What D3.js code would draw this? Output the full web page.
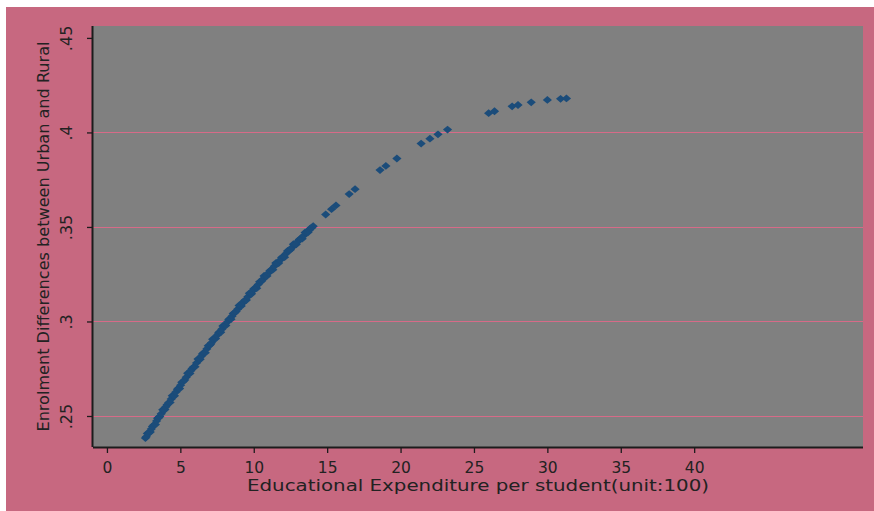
<!DOCTYPE html>
<html>
<head>
<meta charset="utf-8">
<script src="https://cdn.jsdelivr.net/npm/d3@7"></script>
<style>
  html, body { margin: 0; padding: 0; background: #ffffff; }
  svg { display: block; }
  text { font-family: "DejaVu Sans", sans-serif; fill: #222; }
</style>
</head>
<body>
<svg id="chart" width="874" height="511"></svg>
<script>
// Expenditure per student (unit: 100)
const expenditure = [
  2.62, 2.68, 2.75, 2.85, 2.95, 3.02, 3.1, 3.2, 3.3, 3.38, 3.45, 3.52, 3.6, 3.7, 3.8, 3.88,
  3.95, 4.02, 4.1, 4.2, 4.3, 4.38, 4.45, 4.52, 4.6, 4.7, 4.8, 4.88, 4.95, 5.02,
  5.1, 5.2, 5.3, 5.4, 5.5, 5.58, 5.65, 5.72, 5.8, 5.9, 6.0, 6.1, 6.2, 6.28, 6.35, 6.42,
  6.5, 6.6, 6.7, 6.8, 6.9, 6.98, 7.05, 7.12, 7.2, 7.3, 7.4, 7.5, 7.6, 7.68,
  7.75, 7.82, 7.9, 8.0, 8.1, 8.2, 8.3, 8.38, 8.45, 8.52, 8.6, 8.7, 8.8, 8.9, 9.0, 9.08,
  9.15, 9.22, 9.3, 9.4, 9.5, 9.6, 9.7, 9.78, 9.85, 9.92, 10.0, 10.1, 10.2, 10.3,
  10.4, 10.48, 10.55, 10.62, 10.7, 10.8, 10.9, 11.0, 11.1, 11.2, 11.3, 11.4, 11.5, 11.6,
  11.7, 11.8, 11.9, 12.0, 12.1, 12.2, 12.3, 12.4, 12.5, 12.6, 12.7, 12.8, 12.9, 13.0,
  13.1, 13.2, 13.3, 13.4, 13.5, 13.6, 13.7, 13.78, 13.85, 13.95, 14.05,
  14.9, 15.3, 15.6, 16.5, 16.9, 18.6, 19.0, 19.75, 21.4, 22.0, 22.55, 23.2,
  26.0, 26.4, 27.6, 28.0, 28.9, 30.0, 30.9, 31.3
];
// Enrolment differences between urban and rural
const enrolmentDiff = [
  0.2383, 0.2390, 0.2408, 0.2411, 0.2415, 0.2431, 0.2445, 0.2453, 0.2455, 0.2474, 0.2488, 0.2491, 0.2497, 0.2512, 0.2533, 0.2533,
  0.2534, 0.2549, 0.2560, 0.2570, 0.2572, 0.2590, 0.2607, 0.2606, 0.2607, 0.2627, 0.2642, 0.2647, 0.2645, 0.2663,
  0.2678, 0.2683, 0.2691, 0.2705, 0.2726, 0.2725, 0.2725, 0.2740, 0.2751, 0.2759, 0.2761, 0.2781, 0.2801, 0.2800, 0.2800, 0.2815,
  0.2828, 0.2834, 0.2835, 0.2855, 0.2871, 0.2874, 0.2878, 0.2888, 0.2906, 0.2907, 0.2910, 0.2927, 0.2939, 0.2945,
  0.2943, 0.2959, 0.2976, 0.2977, 0.2979, 0.2997, 0.3011, 0.3015, 0.3012, 0.3028, 0.3042, 0.3046, 0.3053, 0.3065, 0.3085, 0.3082,
  0.3082, 0.3096, 0.3105, 0.3112, 0.3113, 0.3131, 0.3149, 0.3148, 0.3146, 0.3161, 0.3172, 0.3177, 0.3176, 0.3195,
  0.3210, 0.3211, 0.3215, 0.3224, 0.3241, 0.3240, 0.3241, 0.3257, 0.3268, 0.3274, 0.3274, 0.3292, 0.3309, 0.3309,
  0.3309, 0.3325, 0.3338, 0.3342, 0.3340, 0.3359, 0.3373, 0.3375, 0.3380, 0.3391, 0.3409, 0.3407, 0.3408, 0.3423,
  0.3433, 0.3439, 0.3438, 0.3454, 0.3471, 0.3470, 0.3472, 0.3483, 0.3492, 0.3496, 0.3504,
  0.3566, 0.3594, 0.3614, 0.3674, 0.3700, 0.3801, 0.3823, 0.3862, 0.3941, 0.3967, 0.3990, 0.4015,
  0.4102, 0.4112, 0.4138, 0.4145, 0.4159, 0.4172, 0.4178, 0.4180
];
const xTicks = [0, 5, 10, 15, 20, 25, 30, 35, 40];
const yTicks = [0.25, 0.30, 0.35, 0.40, 0.45];
const yTickLabels = [".25", ".3", ".35", ".4", ".45"];
const yGrid = [0.25, 0.30, 0.35, 0.40];

const svg = d3.select("#chart");
const W = 874, H = 511;
const plot = { left: 93, right: 863, top: 26, bottom: 447 };

// outer pink panel (leaves thin white strip at top/left)
svg.append("rect").attr("x", 6).attr("y", 7).attr("width", W - 6).attr("height", H - 7)
  .attr("fill", "#c76880");

// grey plot region
svg.append("rect").attr("x", plot.left).attr("y", plot.top)
  .attr("width", plot.right - plot.left).attr("height", plot.bottom - plot.top)
  .attr("fill", "#808080");

const x = d3.scaleLinear().domain([-0.95, 51.5]).range([plot.left, plot.right]);
const y = d3.scaleLinear().domain([0.2336, 0.4563]).range([plot.bottom, plot.top]);

// horizontal grid lines
svg.append("g").selectAll("line").data(yGrid).join("line")
  .attr("x1", plot.left).attr("x2", plot.right)
  .attr("y1", d => Math.round(y(d)) + 0.5).attr("y2", d => Math.round(y(d)) + 0.5)
  .attr("stroke", "#d66b88").attr("stroke-width", 1);

// markers: flattened diamonds
const diamond = "M0,-3.9L4.6,0L0,3.9L-4.6,0Z";
const points = expenditure.map((v, i) => ({ x: v, y: enrolmentDiff[i] }));
svg.append("g").selectAll("path").data(points).join("path")
  .attr("d", diamond)
  .attr("transform", d => `translate(${x(d.x)},${y(d.y)})`)
  .attr("fill", "#1b4c7a");

// x axis
const xAxis = d3.axisBottom(x).tickValues(xTicks).tickSize(6).tickSizeOuter(0);
const gx = svg.append("g").attr("transform", `translate(0,${plot.bottom})`).call(xAxis);
gx.select(".domain").attr("d", `M${plot.left},0.5H${plot.right}`).attr("stroke", "#1c1c1c").attr("stroke-width", 2);
gx.selectAll(".tick line").attr("stroke", "#1c1c1c").attr("stroke-width", 1.3);
gx.selectAll(".tick text").attr("font-size", 15.5).attr("font-family", "DejaVu Sans, sans-serif")
  .attr("fill", "#222").attr("y", 25.5).attr("dy", 0);

// y axis
const yAxis = d3.axisLeft(y).tickValues(yTicks).tickSize(6).tickSizeOuter(0)
  .tickFormat((d, i) => yTickLabels[i]);
const gy = svg.append("g").attr("transform", `translate(${plot.left},0)`).call(yAxis);
gy.select(".domain").attr("d", `M-0.5,${plot.top}V${plot.bottom}`).attr("stroke", "#1c1c1c").attr("stroke-width", 2);
gy.selectAll(".tick line").attr("stroke", "#1c1c1c").attr("stroke-width", 1.3);
gy.selectAll(".tick text")
  .attr("x", null).attr("dy", null)
  .attr("transform", "translate(-21,0) rotate(-90)")
  .attr("text-anchor", "middle")
  .attr("font-size", 16).attr("font-family", "DejaVu Sans, sans-serif").attr("fill", "#222");

// axis titles
svg.append("text")
  .attr("x", (plot.left + plot.right) / 2).attr("y", 491)
  .attr("text-anchor", "middle")
  .attr("font-size", 15.5)
  .attr("textLength", 462).attr("lengthAdjust", "spacingAndGlyphs")
  .text("Educational Expenditure per student(unit:100)");

svg.append("text")
  .attr("transform", `translate(49,${(plot.top + plot.bottom) / 2}) rotate(-90)`)
  .attr("text-anchor", "middle")
  .attr("font-size", 16.5)
  .attr("textLength", 390).attr("lengthAdjust", "spacingAndGlyphs")
  .text("Enrolment Differences between Urban and Rural");
</script>
</body>
</html>
